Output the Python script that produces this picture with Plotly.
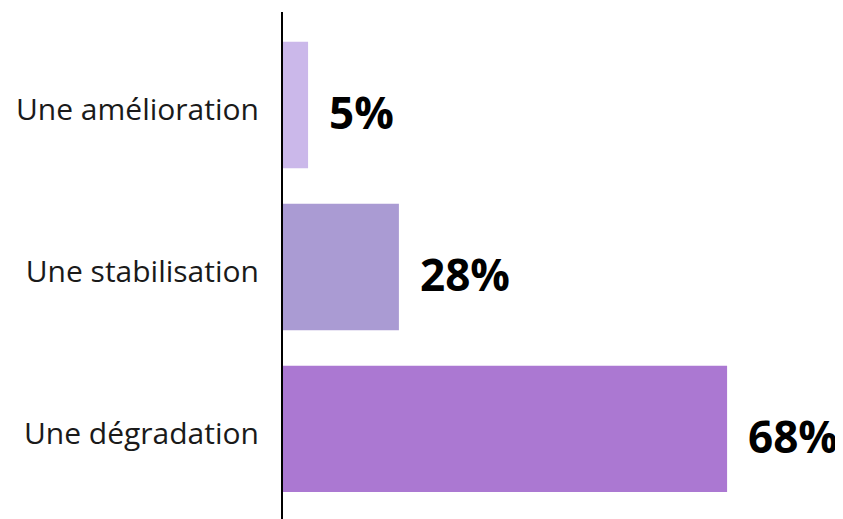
import plotly.graph_objects as go

categories = ["Une amélioration", "Une stabilisation", "Une dégradation"]
bar_lengths = [3.85, 17.8, 68.2]
value_labels = ["5%", "28%", "68%"]
colors = ["#cbb8ea", "#aa9bd3", "#ab78d2"]

fig = go.Figure()
fig.add_trace(go.Bar(
    y=categories,
    x=bar_lengths,
    orientation="h",
    marker=dict(color=colors, line=dict(width=0)),
    hoverinfo="skip",
))

for cat, val, lab in zip(categories, bar_lengths, value_labels):
    fig.add_annotation(
        x=val, y=cat, text="<b>" + lab + "</b>",
        showarrow=False, xanchor="left", yanchor="middle",
        xshift=19, yshift=-7,
        font=dict(family="Open Sans", size=44, color="#000000"),
    )

fig.update_layout(
    width=835, height=511,
    margin=dict(l=275, r=0, t=4, b=0, autoexpand=False),
    paper_bgcolor="white", plot_bgcolor="white",
    bargap=0.22,
    showlegend=False,
    font=dict(family="Open Sans", color="#1a1a1a"),
)
fig.update_xaxes(range=[0, 86], visible=False, showgrid=False, zeroline=False,
                 automargin=False)
fig.update_yaxes(
    type="category",
    range=[2.556, -0.574],
    automargin=False,
    showline=True, linecolor="#000000", linewidth=2,
    showgrid=False, zeroline=False, ticks="",
    ticklabelstandoff=16,
    ticklabelshift=-5,
    tickfont=dict(family="Open Sans", size=30, color="#1a1a1a"),
)

fig.write_html("out.html")
